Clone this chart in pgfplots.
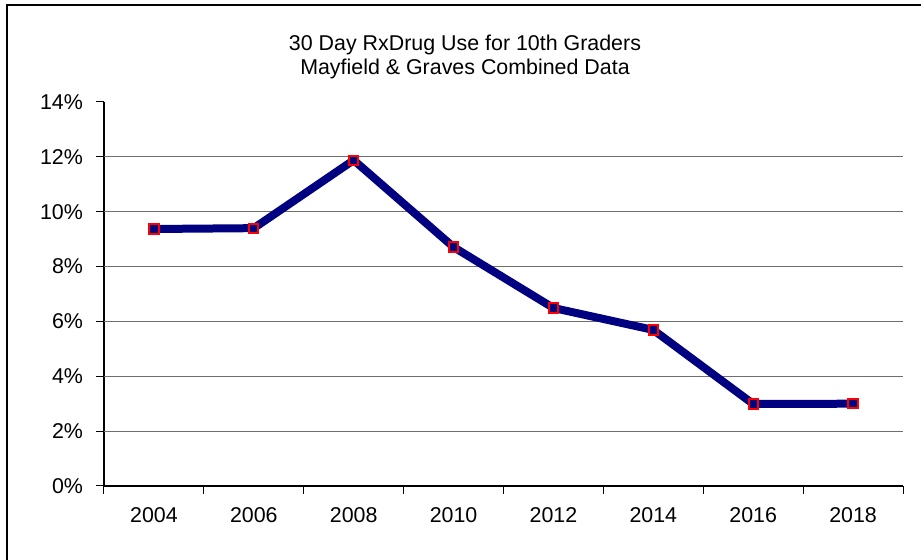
\documentclass[border=0pt]{standalone}
\usepackage{pgfplots}
\pgfplotsset{compat=1.18}
\usepackage{fontspec}
\setmainfont{Liberation Sans}
\definecolor{navyline}{RGB}{0,0,128}
\definecolor{gridgray}{RGB}{110,110,110}

\begin{document}
\begin{tikzpicture}
\useasboundingbox (-52pt,-37pt) rectangle (408.5pt,243pt);
\draw[black, line width=0.8pt] (-48.5pt,-60pt) rectangle (430pt,240.5pt);
\begin{axis}[
    at={(0,0)}, anchor=origin,
    scale only axis,
    width=399.5pt, height=192pt,
    xmin=0, xmax=8,
    ymin=0, ymax=14,
    axis lines=left,
    axis line style={-, black, line width=0.6pt},
    xtick={0.5,1.5,...,7.5},
    xticklabels={2004,2006,2008,2010,2012,2014,2016,2018},
    major x tick style={draw=none},
    minor xtick={0,1,...,8},
    minor x tick style={black, line width=0.5pt},
    minor tick length=4pt,
    ytick={0,2,...,14},
    yticklabel={\pgfmathprintnumber{\tick}\%},
    y tick style={black, line width=0.5pt},
    major tick length=4pt,
    tick align=outside,
    extra y ticks={2,4,...,12},
    extra y tick labels={},
    extra y tick style={grid=major, major tick length=0pt, grid style={gridgray, line width=0.6pt}},
    /pgf/number format/assume math mode=true,
    tick label style={font=\fontsize{10.7}{12}\selectfont},
    xticklabel style={yshift=-3pt},
    yticklabel style={xshift=-3pt},
    clip=false,
]
\addplot[navyline, line width=4pt, mark=square*, mark size=2.3pt,
    mark options={fill=navyline, draw=red, line width=1pt}]
coordinates {
    (0.5, 9.37)
    (1.5, 9.40)
    (2.5, 11.88)
    (3.5, 8.71)
    (4.5, 6.49)
    (5.5, 5.69)
    (6.5, 2.99)
    (7.5, 3.00)
};
\end{axis}
\node[align=center, font=\fontsize{10.7}{12}\selectfont] at (180.5pt,214.5pt)
    {30 Day RxDrug Use for 10th Graders\\Mayfield \& Graves Combined Data};
\end{tikzpicture}
\end{document}
